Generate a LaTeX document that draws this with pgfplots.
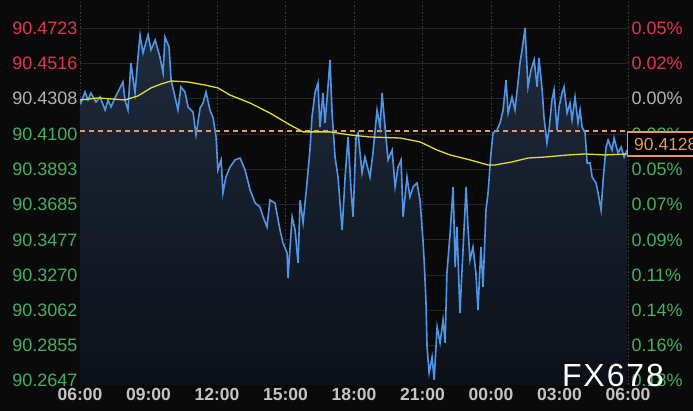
\documentclass[border=0pt]{standalone}
\usepackage{fontspec}
\setmainfont{Liberation Sans}
\newfontfamily\wmfont[LetterSpace=6]{Liberation Sans}
\usepackage{pgfplots}
\usepackage{pgfplotstable}
\pgfplotsset{compat=1.18}

\definecolor{bgc}{HTML}{0A0A0A}
\definecolor{gridh}{HTML}{262626}
\definecolor{gridv}{HTML}{3C3C3C}
\definecolor{pricec}{HTML}{4F96E8}
\definecolor{fillA}{HTML}{1F2B3D}
\definecolor{fillB}{HTML}{0C1018}
\definecolor{mac}{HTML}{E2DC38}
\definecolor{refc}{HTML}{E89A5A}
\definecolor{upc}{HTML}{E0374F}
\definecolor{flatc}{HTML}{B4B4B4}
\definecolor{downc}{HTML}{45B060}
\definecolor{timec}{HTML}{C4C4C4}

% price, hours after 06:00
\pgfplotstableread{
h p
0 90.4301
0.04 90.4283
0.22 90.4348
0.35 90.4301
0.48 90.4342
0.70 90.4289
0.88 90.4319
1.10 90.4242
1.23 90.4301
1.36 90.4260
1.53 90.4313
1.66 90.4348
1.88 90.4407
1.97 90.4301
2.10 90.4242
2.23 90.4519
2.41 90.4342
2.54 90.4554
2.63 90.4684
2.76 90.4578
2.98 90.4684
3.11 90.4596
3.29 90.4654
3.50 90.4554
3.64 90.4460
3.72 90.4672
3.90 90.4613
3.99 90.4419
4.16 90.4319
4.29 90.4242
4.42 90.4378
4.60 90.4348
4.73 90.4260
4.95 90.4230
5.08 90.4095
5.26 90.4254
5.39 90.4283
5.52 90.4348
5.69 90.4242
5.83 90.4195
5.96 90.4083
6.04 90.3889
6.18 90.3948
6.26 90.3753
6.39 90.3847
6.57 90.3906
6.79 90.3948
7.01 90.3959
7.23 90.3889
7.45 90.3771
7.67 90.3694
7.88 90.3671
8.02 90.3612
8.19 90.3553
8.32 90.3712
8.54 90.3694
8.76 90.3535
8.89 90.3459
9.07 90.3400
9.11 90.3253
9.29 90.3612
9.42 90.3535
9.55 90.3341
9.64 90.3712
9.77 90.3577
9.94 90.3812
10.07 90.4006
10.16 90.4201
10.29 90.4342
10.42 90.4401
10.51 90.4142
10.64 90.4342
10.73 90.4166
10.86 90.4378
10.95 90.4537
11.04 90.4224
11.17 90.3965
11.30 90.3847
11.48 90.3535
11.61 90.3847
11.74 90.4083
11.87 90.3771
11.96 90.3612
12.09 90.4083
12.18 90.4107
12.35 90.3871
12.48 90.3965
12.70 90.3847
12.83 90.3989
13.01 90.4242
13.14 90.4142
13.23 90.4342
13.36 90.4142
13.49 90.3948
13.67 90.4006
13.80 90.3789
13.93 90.3906
14.06 90.3948
14.15 90.3612
14.32 90.3847
14.45 90.3730
14.59 90.3789
14.76 90.3812
14.89 90.3712
15.02 90.3476
15.07 90.3359
15.15 90.3123
15.20 90.2846
15.29 90.2693
15.42 90.2787
15.51 90.2652
15.64 90.2964
15.77 90.2870
15.90 90.3005
15.99 90.2870
16.07 90.3282
16.21 90.3518
16.34 90.3789
16.43 90.3317
16.51 90.3553
16.64 90.3046
16.78 90.3435
16.91 90.3789
16.99 90.3553
17.08 90.3359
17.21 90.3435
17.34 90.3282
17.43 90.3064
17.56 90.3435
17.65 90.3200
17.78 90.3653
17.87 90.3753
18.00 90.3989
18.09 90.4107
18.26 90.4124
18.40 90.4166
18.53 90.4242
18.66 90.4419
18.75 90.4224
18.92 90.4319
19.05 90.4242
19.18 90.4401
19.27 90.4519
19.36 90.4596
19.49 90.4725
19.62 90.4378
19.75 90.4478
19.89 90.4537
20.02 90.4378
20.10 90.4548
20.24 90.4360
20.32 90.4201
20.45 90.4048
20.54 90.4124
20.67 90.4301
20.76 90.4360
20.89 90.4124
20.98 90.4260
21.11 90.4342
21.20 90.4378
21.33 90.4224
21.46 90.4283
21.55 90.4183
21.68 90.4319
21.81 90.4166
21.90 90.4242
21.99 90.4142
22.12 90.4107
22.21 90.3930
22.34 90.3930
22.43 90.3847
22.60 90.3812
22.69 90.3753
22.82 90.3653
22.91 90.3830
23.04 90.4024
23.13 90.4065
23.30 90.4006
23.39 90.4077
23.56 90.3989
23.70 90.4024
23.83 90.3965
23.96 90.4006
}\pricedata

% moving average
\pgfplotstableread{
h p
0 90.4301
0.79 90.4313
1.97 90.4301
2.54 90.4325
3.11 90.4372
3.55 90.4395
3.99 90.4413
4.73 90.4407
5.48 90.4389
6.04 90.4372
6.57 90.4330
7.45 90.4283
8.32 90.4224
9.20 90.4154
9.77 90.4113
10.95 90.4113
11.83 90.4095
12.70 90.4083
14.02 90.4077
14.89 90.4054
15.64 90.4006
16.21 90.3977
17.08 90.3948
17.87 90.3918
18.18 90.3918
18.92 90.3936
19.62 90.3959
20.37 90.3965
21.37 90.3977
22.12 90.3983
22.99 90.3977
24.00 90.3983
}\madata

\begin{document}
\begin{tikzpicture}
\fill[bgc] (0,0) rectangle (693pt,411pt);

\pgfplotsset{
  base/.style={
    width=548pt, height=385pt, scale only axis,
    at={(80pt,26pt)}, anchor=south west,
    xmin=0, xmax=24, ymin=90.2622, ymax=90.4890,
    axis line style={draw=none}, tick style={draw=none},
    ytick={90.2647,90.2855,90.3062,90.3270,90.3477,90.3685,90.3893,90.4100,90.4308,90.4516,90.4723},
    ticklabel style={font=\fontsize{18}{21}\selectfont},
  },
}

\begin{axis}[base,
    xtick={0,3,...,24},
    xticklabels={06:00,09:00,12:00,15:00,18:00,21:00,00:00,03:00,06:00},
    xticklabel style={font=\fontsize{17.5}{20}\selectfont\bfseries, text=timec},
    yticklabel style={xshift=1pt},
    yticklabels={\textcolor{downc}{90.2647},\textcolor{downc}{90.2855},\textcolor{downc}{90.3062},
      \textcolor{downc}{90.3270},\textcolor{downc}{90.3477},\textcolor{downc}{90.3685},
      \textcolor{downc}{90.3893},\textcolor{downc}{90.4100},\textcolor{flatc}{90.4308},
      \textcolor{upc}{90.4516},\textcolor{upc}{90.4723}},
    grid=major,
    x grid style={gridv, line width=0.7pt, dash pattern=on 1.5pt off 2pt},
    y grid style={gridh, line width=0.8pt},
]
\addplot[draw=none, top color=fillA, bottom color=fillB] table[x=h, y=p] {\pricedata}
  -- (axis cs:23.96,90.2622) -- (axis cs:0,90.2622) -- cycle;
\addplot[refc, line width=1.2pt, dash pattern=on 5pt off 4pt] coordinates {(0,90.4118) (24,90.4118)};
\addplot[pricec, line width=1.6pt] table[x=h, y=p] {\pricedata};
\addplot[mac, line width=1.3pt] table[x=h, y=p] {\madata};
\end{axis}

\begin{axis}[base,
    xtick=\empty,
    yticklabel pos=right,
    yticklabels={\textcolor{downc}{0.18\%},\textcolor{downc}{0.16\%},\textcolor{downc}{0.14\%},
      \textcolor{downc}{0.11\%},\textcolor{downc}{0.09\%},\textcolor{downc}{0.07\%},
      \textcolor{downc}{0.05\%},\textcolor{downc}{0.02\%},\textcolor{flatc}{0.00\%},
      \textcolor{upc}{0.02\%},\textcolor{upc}{0.05\%}},
]
\end{axis}

\fill[black] (627pt,255pt) rectangle (700pt,279pt);
\draw[refc, line width=1.2pt] (627.6pt,255pt) rectangle (700pt,279pt);
\node[anchor=west, inner sep=0pt, text=refc, font=\fontsize{17.5}{20}\selectfont] at (634pt,267pt) {90.4128};

\node[text=white, font=\wmfont\fontsize{32}{34}\selectfont, inner sep=0pt] at (613pt,36pt) {FX678};

\pgfresetboundingbox
\path[use as bounding box] (0,0) rectangle (693pt,411pt);
\end{tikzpicture}
\end{document}
